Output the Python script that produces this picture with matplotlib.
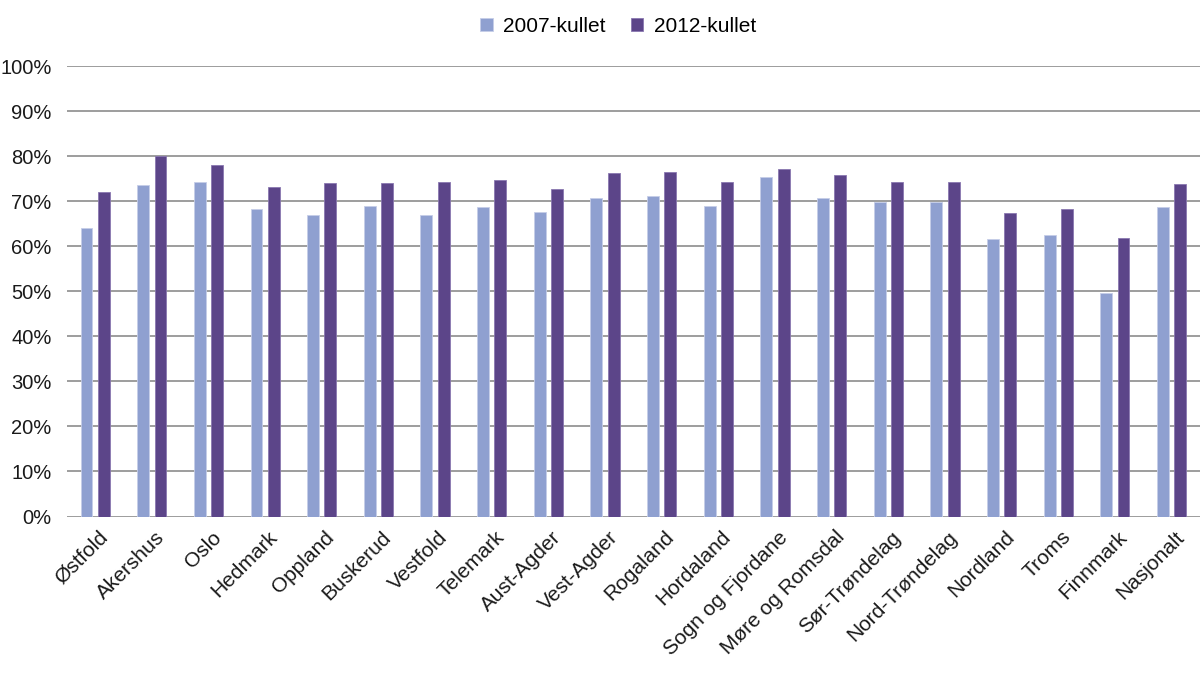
import numpy as np
import matplotlib
matplotlib.use("Agg")
import matplotlib.pyplot as plt
from matplotlib.ticker import PercentFormatter

plt.rcParams['font.family'] = ['Liberation Sans', 'DejaVu Sans']

# fylker og andel (prosent)
fylker = ["Østfold", "Akershus", "Oslo", "Hedmark", "Oppland", "Buskerud",
          "Vestfold", "Telemark", "Aust-Agder", "Vest-Agder", "Rogaland",
          "Hordaland", "Sogn og Fjordane", "Møre og Romsdal", "Sør-Trøndelag",
          "Nord-Trøndelag", "Nordland", "Troms", "Finnmark", "Nasjonalt"]
kull_2007 = [64.0, 73.6, 74.2, 68.3, 67.0, 69.0, 67.0, 68.6, 67.6, 70.8,
             71.2, 69.0, 75.3, 70.8, 69.9, 69.9, 61.7, 62.5, 49.6, 68.7]
kull_2012 = [72.1, 80.0, 78.0, 73.2, 74.0, 74.0, 74.3, 74.6, 72.6, 76.2,
             76.4, 74.3, 77.2, 75.7, 74.2, 74.2, 67.3, 68.3, 61.8, 73.8]

c07 = "#8fa0d0"
c12 = "#5c4589"

fig = plt.figure(figsize=(12, 6.74), dpi=100)
ax = fig.add_axes([67/1200, 1-516.5/674, 1133/1200, 450.5/674])

x = np.arange(len(fylker))
w = 0.21
ax.bar(x - 0.155, kull_2007, w, color=c07, edgecolor="#c5cde8", linewidth=0.6,
       label="2007-kullet", zorder=3)
ax.bar(x + 0.150, kull_2012, w, color=c12, edgecolor="#8a78b0", linewidth=0.6,
       label="2012-kullet", zorder=3)

ax.set_xlim(-0.5, len(fylker) - 0.5)
ax.set_ylim(0, 100)
ax.set_yticks(np.arange(0, 101, 10))
ax.yaxis.set_major_formatter(PercentFormatter(decimals=0))
ax.yaxis.grid(True, color="#8c8c8c", linewidth=1.2, zorder=0)
for s in ax.spines.values():
    s.set_visible(False)
ax.tick_params(axis="both", length=0, labelsize=14.5, colors="#1a1a1a")
ax.tick_params(axis="y", pad=11)

ax.set_xticks(x + 0.05)
ax.set_xticklabels(fylker, rotation=45, ha="right", rotation_mode="anchor",
                   fontsize=15)
ax.tick_params(axis="x", pad=8)

fig.legend(loc="center", bbox_to_anchor=(0.515, 1 - 26/674), ncol=2,
           frameon=False, fontsize=15, handlelength=0.6, handleheight=0.6,
           columnspacing=1.2, handletextpad=0.5)

fig.savefig("out.png", dpi=100)
